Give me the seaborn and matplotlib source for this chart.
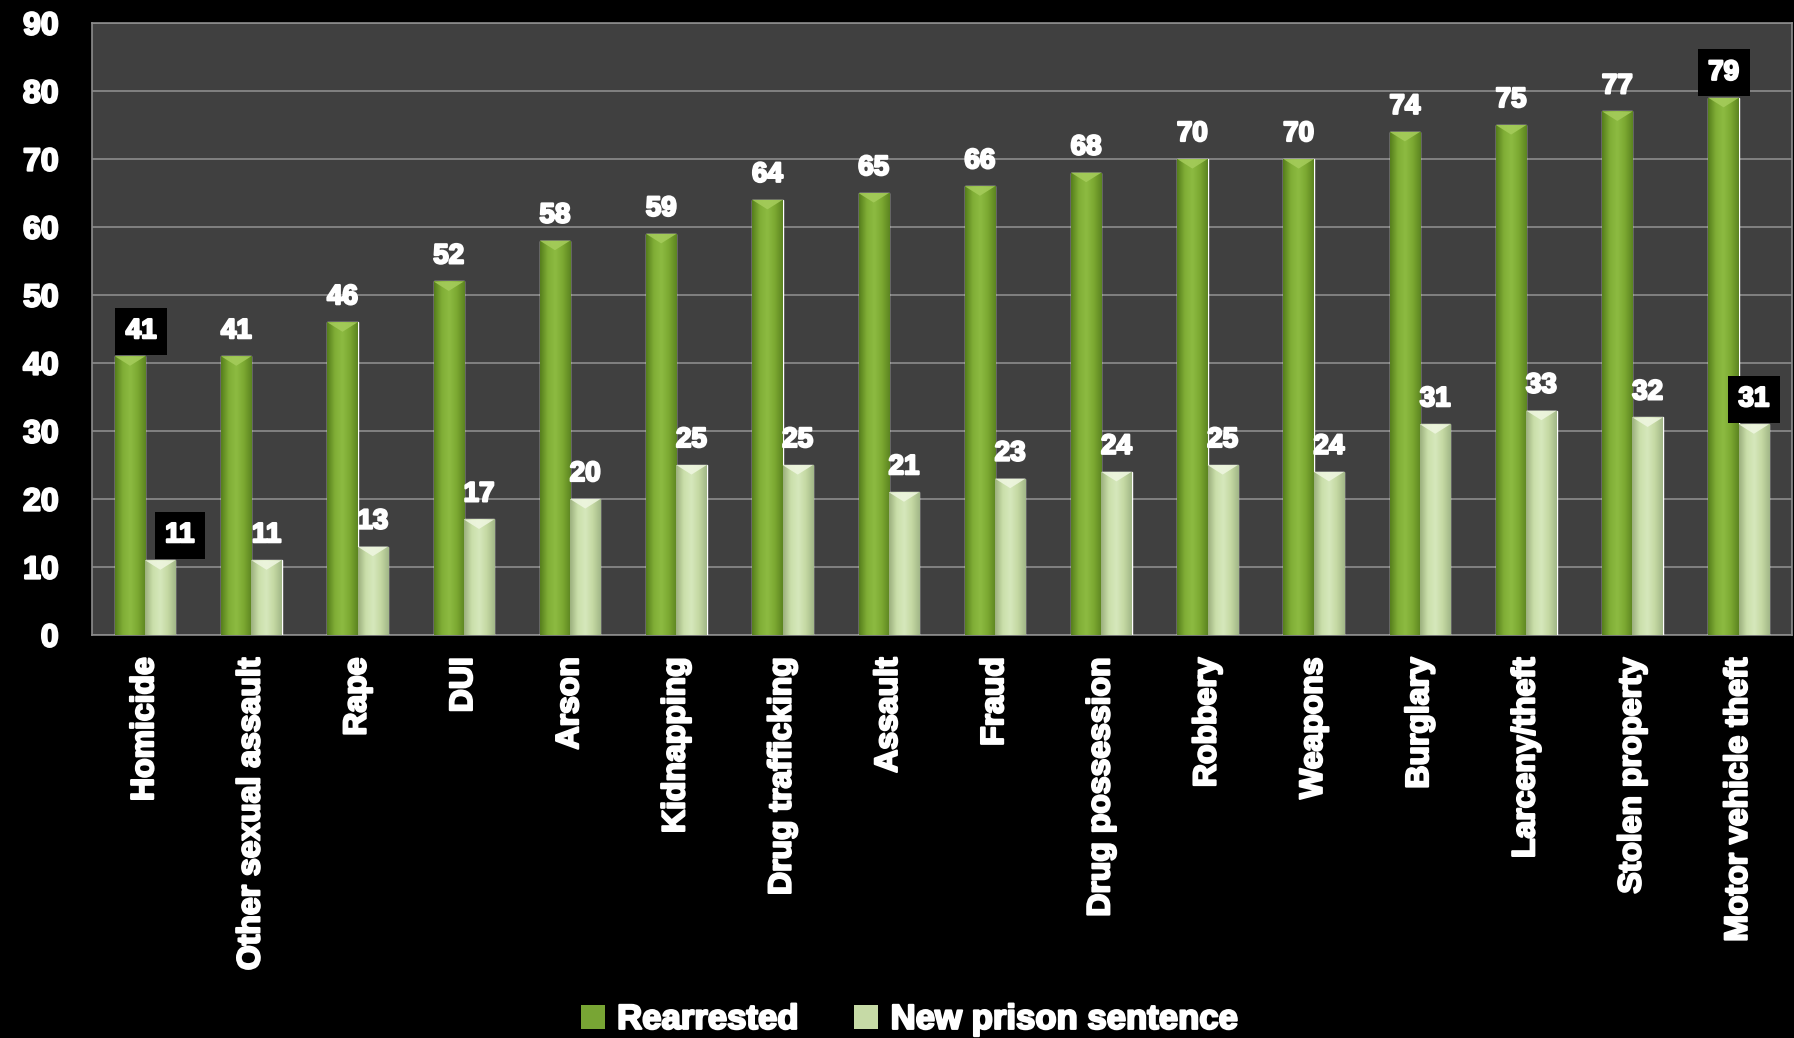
import numpy as np
import pandas as pd
import matplotlib
matplotlib.use("Agg")
import matplotlib.pyplot as plt
import matplotlib.patheffects as pe
import seaborn as sns
from matplotlib.patches import Polygon, Patch
from matplotlib.colors import LinearSegmentedColormap

# Offense categories and recidivism percentages
categories = ["Homicide", "Other sexual assault", "Rape", "DUI", "Arson",
              "Kidnapping", "Drug trafficking", "Assault", "Fraud",
              "Drug possession", "Robbery", "Weapons", "Burglary",
              "Larceny/theft", "Stolen property", "Motor vehicle theft"]
rearrested = [41, 41, 46, 52, 58, 59, 64, 65, 66, 68, 70, 70, 74, 75, 77, 79]
new_prison = [11, 11, 13, 17, 20, 25, 25, 21, 23, 24, 25, 24, 31, 33, 32, 31]
series_names = ["Rearrested", "New prison sentence"]
y_ticks = [0, 10, 20, 30, 40, 50, 60, 70, 80, 90]

df = pd.DataFrame({
    "Offense": categories * 2,
    "Series": [series_names[0]] * len(categories) + [series_names[1]] * len(categories),
    "Percent": rearrested + new_prison,
})

sns.set_theme(style="dark")
plt.rcParams["font.family"] = ["Liberation Sans", "DejaVu Sans"]
plt.rcParams["font.weight"] = "bold"

# thicker strokes give the heavy, poster-like lettering
heavy = [pe.withStroke(linewidth=1.6, foreground="white")]

fig = plt.figure(figsize=(17.94, 10.38), dpi=100, facecolor="black")
ax = fig.add_axes([0.0513, 0.3882, 0.9475, 0.5896])
ax.set_facecolor("#404040")

palette = {series_names[0]: "#78a534", series_names[1]: "#c6daa6"}
sns.barplot(data=df, x="Offense", y="Percent", hue="Series", order=categories,
            hue_order=series_names, palette=palette, width=0.57, ax=ax,
            saturation=1, legend=False, zorder=3)

ax.set_ylim(0, 90)
ax.set_xlim(-0.5, len(categories) - 0.5)
ax.set_yticks(y_ticks)
ax.yaxis.grid(True, color="#8c8c8c", linewidth=1.2, zorder=0)
ax.xaxis.grid(False)
ax.set_axisbelow(True)
for side in ["left", "top", "bottom", "right"]:
    ax.spines[side].set_visible(True)
    ax.spines[side].set_color("#8c8c8c")
    ax.spines[side].set_linewidth(1.2)

ax.set_xlabel("")
ax.set_ylabel("")
ax.tick_params(axis="y", colors="white", labelsize=23, pad=24, length=0)
ax.tick_params(axis="x", colors="white", labelsize=23, pad=16, length=0)
ax.set_xticks(range(len(categories)))
ax.set_xticklabels(categories, rotation=90, fontweight="bold", color="white")
for lbl in ax.get_yticklabels() + ax.get_xticklabels():
    lbl.set_fontweight("bold")
    lbl.set_path_effects(heavy)

# Shaded cylinder-like fill with a bevelled top for each bar
green_cmap = LinearSegmentedColormap.from_list(
    "g", ["#567e1c", "#80ae36", "#8dbb42", "#7ba831", "#5c8521"])
light_cmap = LinearSegmentedColormap.from_list(
    "l", ["#9cb07e", "#cadfaa", "#d6e8bc", "#c4d8a2", "#a2b788"])
grad = np.linspace(0, 1, 64).reshape(1, -1)
n = len(categories)
bars = [p for p in ax.patches if p.get_height() > 0]
for i, p in enumerate(bars):
    x0, w, h = p.get_x(), p.get_width(), p.get_height()
    cmap = green_cmap if i < n else light_cmap
    im = ax.imshow(grad, cmap=cmap, extent=(x0, x0 + w, 0, h), aspect="auto",
                   zorder=3.5, interpolation="bicubic")
    im.set_clip_path(p)
    bevel = "#a6cd5c" if i < n else "#f0f7e2"
    ax.add_patch(Polygon([(x0, h), (x0 + w, h), (x0 + w * 0.5, h - 1.4)],
                         closed=True, facecolor=bevel, edgecolor="none",
                         zorder=4, alpha=0.85))
ax.set_xlim(-0.5, len(categories) - 0.5)
ax.set_ylim(0, 90)

# Value labels; the first and last offense get boxed labels
values = rearrested + new_prison
for i, p in enumerate(bars):
    cat = i % n
    ser = i // n
    dx = 0
    if cat == 0:
        dx = 8 if ser == 0 else 14
    boxed = cat in (0, n - 1)
    kw = {}
    if boxed:
        kw["bbox"] = dict(boxstyle="square,pad=0.38", facecolor="black", edgecolor="none")
    ax.annotate(f"{values[i]}", xy=(p.get_x() + p.get_width() / 2, p.get_height()),
                xytext=(dx, 13), textcoords="offset points", ha="center",
                va="baseline", fontsize=20, fontweight="bold", color="white",
                zorder=6, path_effects=heavy, **kw)

handles = [Patch(facecolor=palette[s], edgecolor="none") for s in series_names]
leg = fig.legend(handles, series_names, loc="center", bbox_to_anchor=(0.507, 0.018),
                 ncol=2, frameon=False, fontsize=25, handlelength=0.7,
                 handleheight=0.7, handletextpad=0.35, columnspacing=1.6)
for t in leg.get_texts():
    t.set_color("white")
    t.set_fontweight("bold")
    t.set_path_effects(heavy)

fig.savefig("out.png", dpi=100, facecolor="black")
